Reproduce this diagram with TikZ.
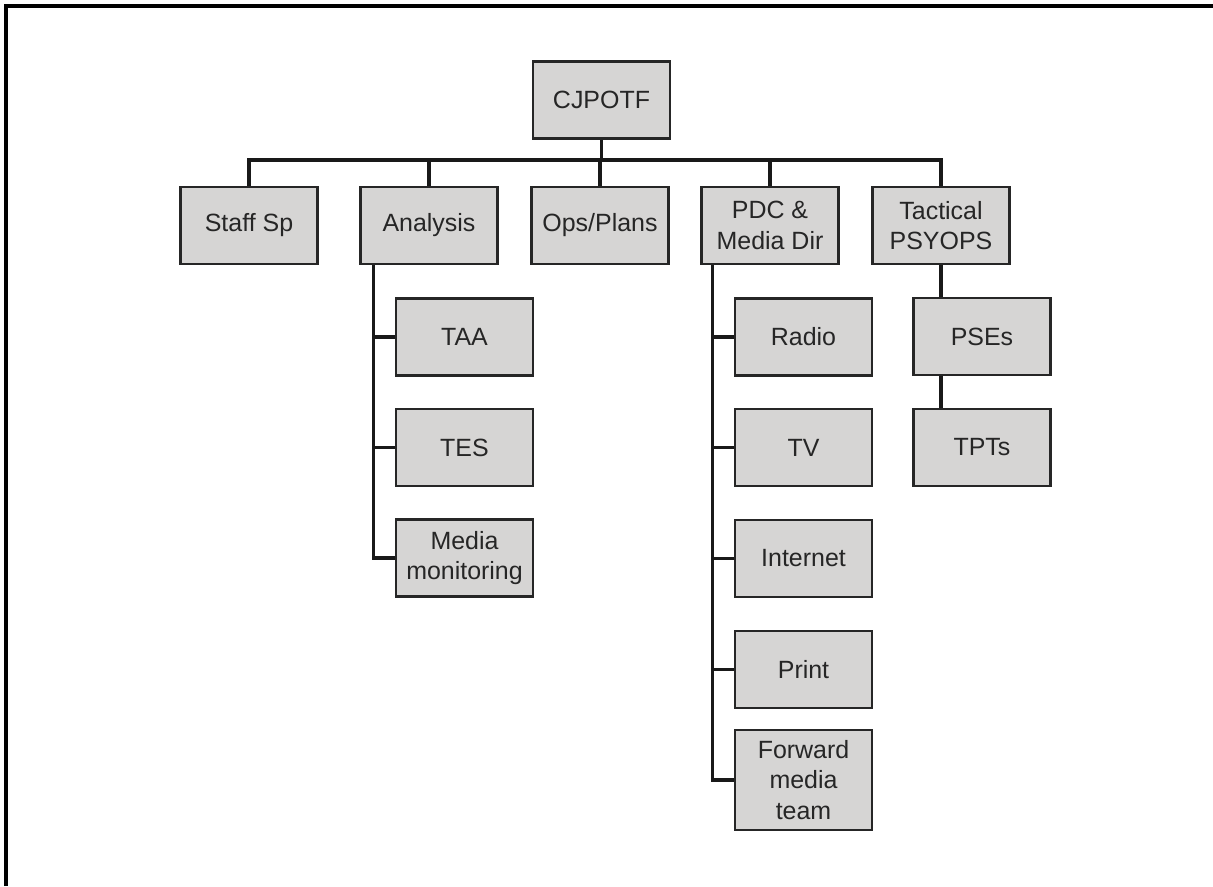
\documentclass[tikz,border=0pt]{standalone}
\usepackage{fontspec}
\setmainfont{Liberation Sans}
\usepackage{tikz}
\usetikzlibrary{positioning, calc}

\definecolor{boxgray}{RGB}{214,213,212}
\definecolor{inkgray}{RGB}{38,38,38}

\begin{document}
\begin{tikzpicture}[
    unit/.style={rectangle, draw=inkgray, fill=boxgray, line width=1.4pt,
      minimum width=2.74cm, minimum height=1.54cm, inner sep=2pt, align=center,
      text=inkgray, font=\fontsize{14.2}{17.5}\selectfont},
    link/.style={line width=1.9pt, draw=black!90}]
        \useasboundingbox (0,0) rectangle (24.26,-17.72);
        \draw[line width=1.9pt] (0.12,-17.72) -- (0.12,-0.12) -- (24.26,-0.12);

        \node[unit] (cjpotf) at (12.03,-2.0) {CJPOTF};

        \node[unit] (staff) at (4.98,-4.51) {Staff Sp};
        \node[unit] (analysis) at (8.58,-4.51) {Analysis};
        \node[unit] (ops) at (12.0,-4.51) {Ops/Plans};
        \node[unit] (pdc) at (15.40,-4.51) {PDC \&\\Media Dir};
        \node[unit] (tactical) at (18.82,-4.51) {Tactical\\PSYOPS};

        \node[unit] (taa) at (9.29,-6.74) {TAA};
        \node[unit] (tes) at (9.29,-8.95) {TES};
        \node[unit] (monitor) at (9.29,-11.16) {Media\\monitoring};

        \node[unit] (radio) at (16.07,-6.74) {Radio};
        \node[unit] (tv) at (16.07,-8.95) {TV};
        \node[unit] (internet) at (16.07,-11.17) {Internet};
        \node[unit] (print) at (16.07,-13.39) {Print};
        \node[unit, minimum height=2.0cm] (fwd) at (16.07,-15.6) {Forward\\media\\team};

        \node[unit] (pse) at (19.64,-6.73) {PSEs};
        \node[unit] (tpt) at (19.64,-8.95) {TPTs};

        \coordinate (bus) at (0,-3.2);
        \coordinate (anaspine) at ([xshift=0.28cm]analysis.south west);
        \coordinate (pdcspine) at ([xshift=0.24cm]pdc.south west);

        \draw[link] (cjpotf.south) -- (cjpotf.south |- bus);
        \draw[link] (staff.north) -- (staff.north |- bus) -- (tactical.north |- bus) -- (tactical.north);
        \foreach \u in {analysis, ops, pdc}
          \draw[link] (\u.north) -- (\u.north |- bus);

        \draw[link] (anaspine) |- (monitor.west);
        \foreach \u in {taa, tes}
          \draw[link] (anaspine |- \u.west) -- (\u.west);

        \draw[link] (pdcspine) |- (fwd.west);
        \foreach \u in {radio, tv, internet, print}
          \draw[link] (pdcspine |- \u.west) -- (\u.west);

        \draw[link] (tactical.south) -- (tactical.south |- pse.north);
        \draw[link] (tactical.south |- pse.south) -- (tactical.south |- tpt.north);
      \end{tikzpicture}
\end{document}
